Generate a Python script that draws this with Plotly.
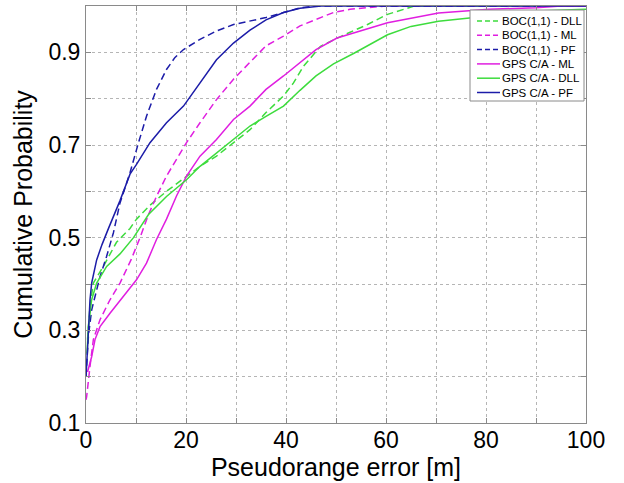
import plotly.graph_objects as go

# ---- data ----
boc_dll_x = [0.3, 0.8, 1.47, 3.47, 6.1, 8.8, 10.1, 12.8, 16.1, 20.1, 22.8, 26.1, 29.5, 32.8, 36, 39.5, 41.5, 43.5, 46.9, 50.9, 56.3, 60.3, 65.7, 100]
boc_dll_y = [0.28, 0.352, 0.402, 0.438, 0.49, 0.52, 0.54, 0.57, 0.6, 0.633, 0.654, 0.676, 0.705, 0.733, 0.77, 0.806, 0.834, 0.87, 0.913, 0.934, 0.96, 0.982, 1.0, 1.0]

boc_ml_x = [0, 0.13, 0.8, 1.47, 2.8, 4.8, 6.8, 9.0, 10.8, 12.5, 14.1, 16.1, 18.1, 20.1, 22.8, 26.1, 29.5, 32.8, 36, 39.5, 42.8, 46, 49.5, 52.8, 60, 100]
boc_ml_y = [0.15, 0.157, 0.222, 0.28, 0.323, 0.366, 0.402, 0.452, 0.5, 0.55, 0.589, 0.633, 0.669, 0.705, 0.748, 0.798, 0.842, 0.878, 0.914, 0.935, 0.957, 0.971, 0.986, 0.993, 1.0, 1.0]

boc_pf_x = [0, 0.3, 0.5, 1.13, 1.8, 2.8, 4.13, 5.47, 6.8, 8.8, 10.5, 12.1, 14.1, 16.1, 17.8, 19.5, 22.8, 26.1, 29.5, 36, 39.5, 42.8, 46, 100]
boc_pf_y = [0.2, 0.25, 0.29, 0.344, 0.373, 0.416, 0.46, 0.51, 0.575, 0.64, 0.705, 0.762, 0.82, 0.863, 0.889, 0.906, 0.928, 0.946, 0.96, 0.975, 0.986, 0.996, 1.0, 1.0]

gps_ml_x = [0.3, 0.6, 1.13, 1.8, 2.8, 4.8, 7.5, 10.1, 12.1, 14.1, 16.1, 18.1, 20.1, 22.8, 26.1, 29.5, 32.8, 36, 39.5, 42.8, 46, 50.2, 60.3, 70.5, 80.6, 90, 95, 100]
gps_ml_y = [0.21, 0.222, 0.243, 0.28, 0.308, 0.337, 0.373, 0.409, 0.445, 0.496, 0.54, 0.59, 0.633, 0.676, 0.712, 0.755, 0.784, 0.82, 0.849, 0.878, 0.906, 0.931, 0.964, 0.985, 0.993, 0.996, 1.0, 1.0]

gps_dll_x = [0.2, 0.47, 1.13, 2.13, 4.13, 6.8, 9.5, 12.5, 16.1, 20.1, 22.8, 26.1, 29.5, 32.8, 36, 39.5, 42.8, 46, 49.5, 53.6, 60.3, 65, 70.5, 76.5, 83, 90, 100]
gps_dll_y = [0.25, 0.308, 0.366, 0.402, 0.438, 0.465, 0.5, 0.55, 0.589, 0.625, 0.654, 0.683, 0.712, 0.741, 0.762, 0.784, 0.818, 0.849, 0.875, 0.898, 0.938, 0.956, 0.967, 0.974, 0.982, 0.989, 0.993]

gps_pf_x = [0, 0.13, 0.5, 0.8, 1.13, 2.13, 3.2, 4.5, 6.8, 8.8, 10.1, 12.8, 16.1, 19.5, 22.8, 26.1, 29.5, 32.8, 36, 39.5, 42.8, 47, 100]
gps_pf_y = [0.2, 0.22, 0.3, 0.366, 0.402, 0.452, 0.485, 0.52, 0.58, 0.637, 0.658, 0.705, 0.748, 0.784, 0.834, 0.884, 0.92, 0.948, 0.97, 0.986, 0.995, 1.0, 1.0]

series_names = ["BOC(1,1) - DLL", "BOC(1,1) - ML", "BOC(1,1) - PF",
                "GPS C/A - ML", "GPS C/A - DLL", "GPS C/A - PF"]
x_ticks = [0, 20, 40, 60, 80, 100]
y_ticks = [0.1, 0.3, 0.5, 0.7, 0.9]

GREEN = "#3ddc3d"
MAGENTA = "#e01ee0"
BLUE = "#1c1ca8"
GRID = "#b5b5b5"
FRAME = "#8a8a8a"
DASH = "7px,4px"
LEG_DASH = "5px,3px"

series = [
    (series_names[0], boc_dll_x, boc_dll_y, GREEN, True),
    (series_names[1], boc_ml_x, boc_ml_y, MAGENTA, True),
    (series_names[2], boc_pf_x, boc_pf_y, BLUE, True),
    (series_names[3], gps_ml_x, gps_ml_y, MAGENTA, False),
    (series_names[4], gps_dll_x, gps_dll_y, GREEN, False),
    (series_names[5], gps_pf_x, gps_pf_y, BLUE, False),
]

fig = go.Figure()
for name, xs, ys, col, dashed in series:
    fig.add_trace(go.Scatter(x=xs, y=ys, mode="lines", name=name, showlegend=False,
                             line=dict(color=col, width=1.5, dash=DASH if dashed else "solid")))

FONT = "Liberation Sans, Arial, sans-serif"

# ---- MATLAB-style legend box, drawn in paper coordinates ----
W, H = 624, 483
ML_, MR_, MT_, MB_ = 86, 38, 6, 60
PW, PH = W - ML_ - MR_, H - MT_ - MB_

def px2paper(px, py):
    return (px - ML_) / PW, (H - MB_ - py) / PH

shapes = []
annotations = []
bx0, by0 = px2paper(470, 10)
bx1, by1 = px2paper(584, 101)
shapes.append(dict(type="rect", xref="paper", yref="paper", x0=bx0, x1=bx1, y0=by1, y1=by0,
                   fillcolor="white", line=dict(color=FRAME, width=1), layer="above"))
for i, (name, xs, ys, col, dashed) in enumerate(series):
    py = 21 + 14.3 * i
    lx0, ly = px2paper(477, py)
    lx1, _ = px2paper(500, py)
    shapes.append(dict(type="line", xref="paper", yref="paper", x0=lx0, x1=lx1, y0=ly, y1=ly,
                       line=dict(color=col, width=1.5, dash=LEG_DASH if dashed else "solid"),
                       layer="above"))
    tx, _ = px2paper(500, py)
    annotations.append(dict(xref="paper", yref="paper", x=tx, y=ly, xanchor="left", yanchor="middle",
                            text=name, showarrow=False,
                            font=dict(family=FONT, size=11.5, color="black")))

axis_common = dict(
    showline=True, linecolor=FRAME, linewidth=1, mirror="ticks",
    ticks="inside", ticklen=5, tickcolor=FRAME,
    showgrid=True, gridcolor=GRID, griddash="dot", gridwidth=1,
    zeroline=False,
    tickfont=dict(family=FONT, size=23, color="black"),
)

fig.update_layout(
    width=W, height=H,
    margin=dict(l=ML_, r=MR_, t=MT_, b=MB_),
    paper_bgcolor="white", plot_bgcolor="white",
    font=dict(family=FONT, color="black"),
    showlegend=False,
    shapes=shapes,
    annotations=annotations,
    xaxis=dict(axis_common, range=[0, 100], tickvals=x_ticks, ticklabelstandoff=-4,
               minor=dict(dtick=10, tick0=0, showgrid=True, gridcolor=GRID,
                          griddash="dot", ticks="inside", ticklen=5, tickcolor=FRAME),
               title=dict(text="Pseudorange error [m]", standoff=0,
                          font=dict(family=FONT, size=25, color="black")),
               automargin=False),
    yaxis=dict(axis_common, range=[0.1, 1.0], tickvals=y_ticks, tickformat=".1f",
               minor=dict(dtick=0.1, tick0=0.1, showgrid=True, gridcolor=GRID,
                          griddash="dot", ticks="inside", ticklen=5, tickcolor=FRAME),
               title=dict(text="Cumulative Probability", standoff=8,
                          font=dict(family=FONT, size=25, color="black")),
               automargin=False),
)

fig.write_html("out.html", config={"displayModeBar": False},
               post_script="document.body.style.margin='0px';")
